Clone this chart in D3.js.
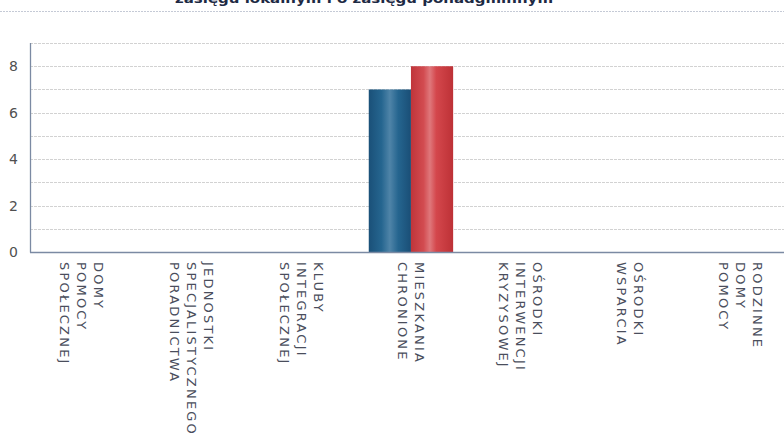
<!DOCTYPE html>
<html><head><meta charset="utf-8">
<script src="https://cdn.jsdelivr.net/npm/d3@7"></script>
<style>
html,body{margin:0;padding:0;background:#fff;}
svg{display:block;}
</style></head>
<body>
<svg id="chart" width="784" height="447"></svg>
<script>
const titleText = "zasięgu lokalnym i o zasięgu ponadgminnym";
const categories = [
  ["DOMY","POMOCY","SPOŁECZNEJ"],
  ["JEDNOSTKI","SPECJALISTYCZNEGO","PORADNICTWA"],
  ["KLUBY","INTEGRACJI","SPOŁECZNEJ"],
  ["MIESZKANIA","CHRONIONE"],
  ["OŚRODKI","INTERWENCJI","KRYZYSOWEJ"],
  ["OŚRODKI","WSPARCIA"],
  ["RODZINNE","DOMY","POMOCY"]
];
const seriesNames = ["lokalne", "ponadgminne"];
const seriesLocal = [0, 0, 0, 7, 0, 0, 0];
const seriesSupra = [0, 0, 0, 8, 0, 0, 0];
const yTicks = [0, 2, 4, 6, 8];

const svg = d3.select("#chart");
const W = 784, H = 447;
const m = {left: 30, top: 43, bottom: 252};
const catKeys = categories.map(c => c.join(" "));

const x = d3.scaleBand().domain(catKeys).range([27, 27 + 7 * 109.7]).paddingInner(0).paddingOuter(0);
const x1 = d3.scaleBand().domain(seriesNames).range([0, x.bandwidth()]).paddingInner(0).paddingOuter(0.3);
const y = d3.scaleLinear().domain([0, 9]).range([m.bottom, m.top]);

const defs = svg.append("defs");
function grad(id, stops) {
  const g = defs.append("linearGradient").attr("id", id).attr("x1", "0").attr("x2", "1").attr("y1", "0").attr("y2", "0");
  stops.forEach(s => g.append("stop").attr("offset", s[0]).attr("stop-color", s[1]));
}
grad("gBlue", [["0", "#1a5078"], ["0.3", "#25658f"], ["0.5", "#4f84a8"], ["0.7", "#25658f"], ["1", "#1a4e76"]]);
grad("gRed", [["0", "#c0353a"], ["0.3", "#d24b50"], ["0.45", "#df777b"], ["0.6", "#d4474c"], ["1", "#bd3136"]]);

// title (clipped at top as in the reference)
svg.append("text")
  .attr("x", 364).attr("y", 3)
  .attr("text-anchor", "middle")
  .attr("font-family", "DejaVu Sans, sans-serif")
  .attr("font-size", 13).attr("font-weight", "bold")
  .attr("fill", "#1d2a44")
  .attr("textLength", 378).attr("lengthAdjust", "spacingAndGlyphs")
  .text(titleText);

svg.append("line")
  .attr("x1", 0).attr("x2", W).attr("y1", 11.5).attr("y2", 11.5)
  .attr("stroke", "#c5cad6").attr("stroke-dasharray", "2,1");

// grid
const gridVals = d3.range(1, 10);
svg.append("g").selectAll("line").data(gridVals).join("line")
  .attr("x1", m.left).attr("x2", W)
  .attr("y1", d => Math.round(y(d)) + 0.5).attr("y2", d => Math.round(y(d)) + 0.5)
  .attr("stroke", "#d2d2d2").attr("stroke-dasharray", "3,1");

// bars
const g = svg.append("g");
categories.forEach((c, i) => {
  const key = catKeys[i];
  const vals = [seriesLocal[i], seriesSupra[i]];
  vals.forEach((v, j) => {
    if (v <= 0) return;
    g.append("rect")
      .attr("x", x(key) + x1(seriesNames[j]))
      .attr("y", y(v))
      .attr("width", x1.bandwidth())
      .attr("height", y(0) - y(v))
      .attr("fill", j === 0 ? "url(#gBlue)" : "url(#gRed)");
  });
});

// axes
const yAxis = d3.axisLeft(y).tickValues(yTicks).tickSize(0).tickPadding(12).tickFormat(d3.format("d"));
const ya = svg.append("g").attr("transform", `translate(${m.left},0)`).call(yAxis);
ya.select(".domain").remove();
ya.selectAll("text").attr("font-family", "DejaVu Sans, sans-serif").attr("font-size", 14).attr("fill", "#505050");

svg.append("line").attr("x1", m.left + 0.5).attr("x2", m.left + 0.5).attr("y1", m.top).attr("y2", m.bottom + 0.5)
  .attr("stroke", "#7b8aa3").attr("stroke-width", 1.3);
svg.append("line").attr("x1", m.left).attr("x2", W).attr("y1", m.bottom + 0.5).attr("y2", m.bottom + 0.5)
  .attr("stroke", "#7b8aa3").attr("stroke-width", 1.3);

// x labels (rotated 90deg)
const lg = svg.append("g");
categories.forEach((lines, i) => {
  const cx = x(catKeys[i]) + x.bandwidth() / 2;
  const n = lines.length;
  const t = lg.append("g").attr("transform", `translate(${cx},${m.bottom + 10}) rotate(90)`);
  lines.forEach((ln, k) => {
    t.append("text")
      .attr("x", 0)
      .attr("y", (k - (n - 1) / 2) * 17)
      .attr("dominant-baseline", "central")
      .attr("font-family", "DejaVu Sans, sans-serif")
      .attr("font-size", 13)
      .attr("letter-spacing", 2.2)
      .attr("fill", "#4a4e5c")
      .text(ln);
  });
});
</script>
</body></html>
